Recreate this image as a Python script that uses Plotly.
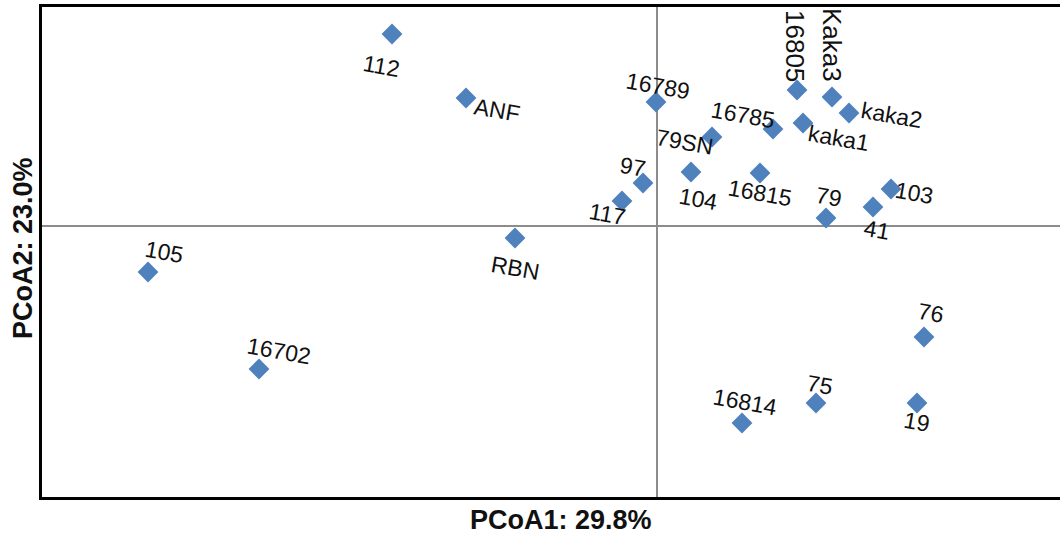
import plotly.graph_objects as go

# Sample labels and PCoA scores
names = ["112", "ANF", "16789", "16805", "Kaka3", "kaka2", "kaka1", "16785", "79SN",
         "97", "104", "16815", "117", "79", "41", "103", "RBN", "105", "16702",
         "16814", "75", "19", "76"]
pc1 = [-0.265, -0.191, -0.001, 0.140, 0.175, 0.192, 0.146, 0.116, 0.055,
       -0.014, 0.034, 0.103, -0.035, 0.169, 0.216, 0.234, -0.142, -0.509, -0.398,
       0.085, 0.159, 0.260, 0.267]
pc2 = [0.192, 0.128, 0.124, 0.136, 0.129, 0.113, 0.103, 0.097, 0.089,
       0.043, 0.054, 0.053, 0.025, 0.008, 0.019, 0.037, -0.012, -0.046, -0.143,
       -0.197, -0.177, -0.177, -0.111]

x_title = "PCoA1: 29.8%"
y_title = "PCoA2: 23.0%"

# label placement (pixel offsets from the marker: dx right, dy down) and rotation
label_style = {
    "112": (-11, 32, 10), "ANF": (31, 12, 10), "16789": (2, -16, 10),
    "16805": (-2, -44, 90), "Kaka3": (0, -52, 90), "kaka2": (42, 2, 10),
    "kaka1": (35, 15, 10), "16785": (-30, -14, 10), "79SN": (-27, 5, 10),
    "97": (-10, -16, 10), "104": (7, 27, 10), "16815": (0, 20, 10),
    "117": (-15, 13, 10), "79": (3, -21, 10), "41": (4, 23, 10),
    "103": (23, 4, 10), "RBN": (0, 30, 10), "105": (16, -20, 10),
    "16702": (20, -18, 10), "16814": (3, -21, 10), "75": (4, -18, 10),
    "19": (0, 19, 10), "76": (7, -24, 10),
}
vertical_font_size = 26

FONT = "Liberation Sans, Arial, sans-serif"

fig = go.Figure()
fig.add_trace(go.Scatter(
    x=pc1, y=pc2, mode="markers",
    marker=dict(symbol="diamond", size=16, color="#4F81BD", line=dict(width=0)),
    hovertext=names, hoverinfo="text", showlegend=False,
))

annotations = []
for n, x, y in zip(names, pc1, pc2):
    dx, dy, ang = label_style[n]
    annotations.append(dict(
        x=x, y=y, xref="x", yref="y", text=n, showarrow=False,
        xshift=dx, yshift=-dy, textangle=ang,
        font=dict(family=FONT, size=vertical_font_size if ang == 90 else 23,
                  color="#111111"),
    ))

annotations.append(dict(
    x=0.5098, y=-0.012, xref="paper", yref="paper", text="<b>" + x_title + "</b>",
    showarrow=False, xanchor="center", yanchor="top",
    font=dict(family=FONT, size=27, color="#111111"),
))
annotations.append(dict(
    x=-0.0187, y=0.508, xref="paper", yref="paper", text="<b>" + y_title + "</b>",
    showarrow=False, xanchor="center", yanchor="middle", textangle=-90,
    font=dict(family=FONT, size=27, color="#111111"),
))

fig.update_layout(
    width=1060, height=539,
    margin=dict(l=42, r=0, t=7, b=42),
    paper_bgcolor="white", plot_bgcolor="white",
    annotations=annotations,
    xaxis=dict(range=[-0.615, 0.403], showgrid=False, showticklabels=False, ticks="",
               zeroline=True, zerolinecolor="#8c8c8c", zerolinewidth=1.5,
               showline=True, linecolor="black", linewidth=2.5, mirror=True),
    yaxis=dict(range=[-0.271, 0.219], showgrid=False, showticklabels=False, ticks="",
               zeroline=True, zerolinecolor="#8c8c8c", zerolinewidth=1.5,
               showline=True, linecolor="black", linewidth=2.5, mirror=False),
)

fig.write_html("out.html", config={"displayModeBar": False},
               post_script="document.body.style.margin='0';")
